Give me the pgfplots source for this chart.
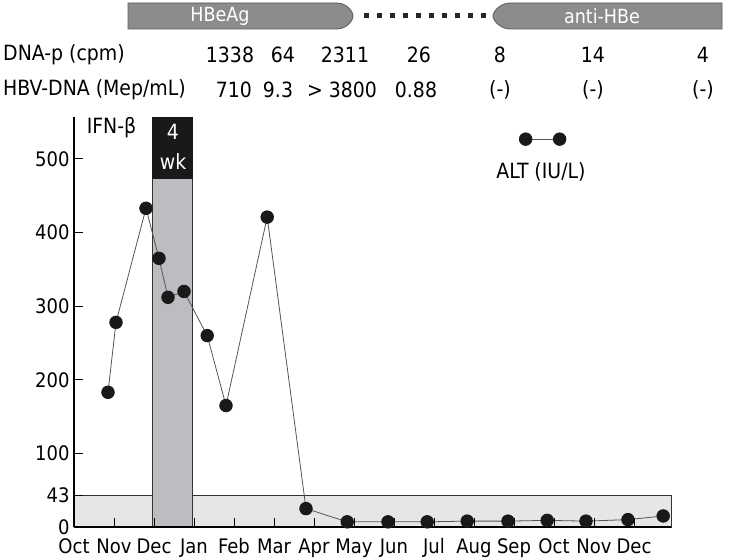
\documentclass[border=0pt]{standalone}
\usepackage{pgfplots}
\pgfplotsset{compat=1.18}
\usepackage{fontspec}
\setmainfont{DejaVu Sans Condensed}
\definecolor{bandgray}{HTML}{E6E6E6}
\definecolor{ifngray}{HTML}{BDBDC1}
\definecolor{stripgray}{HTML}{8C8C8C}
\definecolor{stripedge}{HTML}{5A5A5A}
\definecolor{altline}{HTML}{555555}
\begin{document}
\begin{tikzpicture}
\useasboundingbox (0pt,0pt) rectangle (729pt,560pt);
% serology strip at the top
\fill[stripgray, draw=stripedge, line width=0.8pt]
  (128pt,557pt) -- (337pt,557pt) .. controls (346pt,557pt) and (353pt,549pt) .. (353pt,544pt)
  .. controls (353pt,539pt) and (346pt,531pt) .. (337pt,531pt) -- (128pt,531pt) -- cycle;
\fill[stripgray, draw=stripedge, line width=0.8pt]
  (722pt,557pt) -- (510pt,557pt) .. controls (501pt,557pt) and (493pt,549pt) .. (493pt,544pt)
  .. controls (493pt,539pt) and (501pt,531pt) .. (510pt,531pt) -- (722pt,531pt) -- cycle;
\foreach \i in {0,...,9} {
  \fill[black!85] ({366pt+13pt*\i-2.5pt},541.5pt) rectangle ++(5pt,5pt);
}
\node[white, inner sep=0pt, font=\fontsize{19.5}{23}\selectfont] at (220pt,544pt) {HBeAg};
\node[white, inner sep=0pt, font=\fontsize{19.5}{23}\selectfont] at (602pt,544pt) {anti-HBe};
\begin{scope}[every node/.style={font=\fontsize{21}{25}\selectfont, inner sep=0pt}]
\node[anchor=west] at (3pt,505pt) {DNA-p (cpm)};
\node at (230pt,505pt) {1338};
\node at (283pt,505pt) {64};
\node at (345pt,505pt) {2311};
\node at (419pt,505pt) {26};
\node at (500pt,505pt) {8};
\node at (593pt,505pt) {14};
\node at (703pt,505pt) {4};
\node[anchor=west] at (3pt,470pt) {HBV-DNA (Mep/mL)};
\node at (234pt,470pt) {710};
\node at (278pt,470pt) {9.3};
\node at (342pt,470pt) {> 3800};
\node at (416pt,470pt) {0.88};
\node at (500pt,470pt) {(-)};
\node at (593pt,470pt) {(-)};
\node at (703pt,470pt) {(-)};
\end{scope}
\begin{axis}[
  scale only axis,
  width=597pt, height=410pt,
  at={(74pt,33pt)}, anchor=south west,
  xmin=0, xmax=14.925,
  ymin=0, ymax=557,
  axis x line*=bottom, axis y line*=left,
  axis line style={-, line width=1.2pt, black},
  axis on top,
  xtick={0,...,14},
  xticklabels={Oct,Nov,Dec,Jan,Feb,Mar,Apr,May,Jun,Jul,Aug,Sep,Oct,Nov,Dec},
  ytick={0,43,100,200,300,400,500},
  tick align=inside,
  major tick length=9pt,
  tick style={line width=1pt, black},
  ticklabel style={font=\fontsize{20}{24}\selectfont},
  /pgf/number format/assume math mode=true,
  yticklabel style={xshift=-1pt},
  xticklabel style={yshift=-8pt},
  clip=false,
  legend style={draw=none, fill=none, at={(0.745,0.946)}, anchor=west,
    inner sep=0pt, nodes={inner sep=0pt}},
  legend image code/.code={
    \draw[line width=0.9pt, altline] (0pt,0pt) -- (34pt,0pt);
    \fill[black!90] (0pt,0pt) circle (6.3pt) (34pt,0pt) circle (6.3pt);
  },
]
% normal ALT range band (0-43)
\addplot[fill=bandgray, draw=black!80, line width=0.9pt, forget plot]
  coordinates {(0,43)(14.925,43)} \closedcycle;
% interferon-beta period
\addplot[fill=ifngray, draw=black!80, line width=0.9pt, forget plot]
  coordinates {(1.95,474)(2.95,474)} \closedcycle;
\addplot[fill=black!90, draw=black!90, line width=0.9pt, forget plot]
  coordinates {(1.95,474)(2.95,474)(2.95,557)(1.95,557)} -- cycle;
% ALT series
\addplot[altline, line width=0.8pt, mark=*, mark size=6.3pt,
  mark options={fill=black!90, draw=black!90}] coordinates {
  (0.85,183)(1.05,278)(1.80,433)(2.125,365)(2.35,312)(2.75,320)
  (3.33,260)(3.80,165)(4.83,421)(5.80,25)(6.83,7)(7.85,7)(8.83,7)
  (9.83,8)(10.85,8)(11.83,9)(12.80,8)(13.85,10)(14.73,15)
};
\addlegendentry{}
\end{axis}
\begin{scope}[every node/.style={font=\fontsize{21}{25}\selectfont, inner sep=0pt}]
\node at (111.5pt,432pt) {IFN-β};
\node[white] at (173pt,428pt) {4};
\node[white] at (173pt,398pt) {wk};
\node at (541pt,388pt) {ALT (IU/L)};
\end{scope}
\end{tikzpicture}
\end{document}
